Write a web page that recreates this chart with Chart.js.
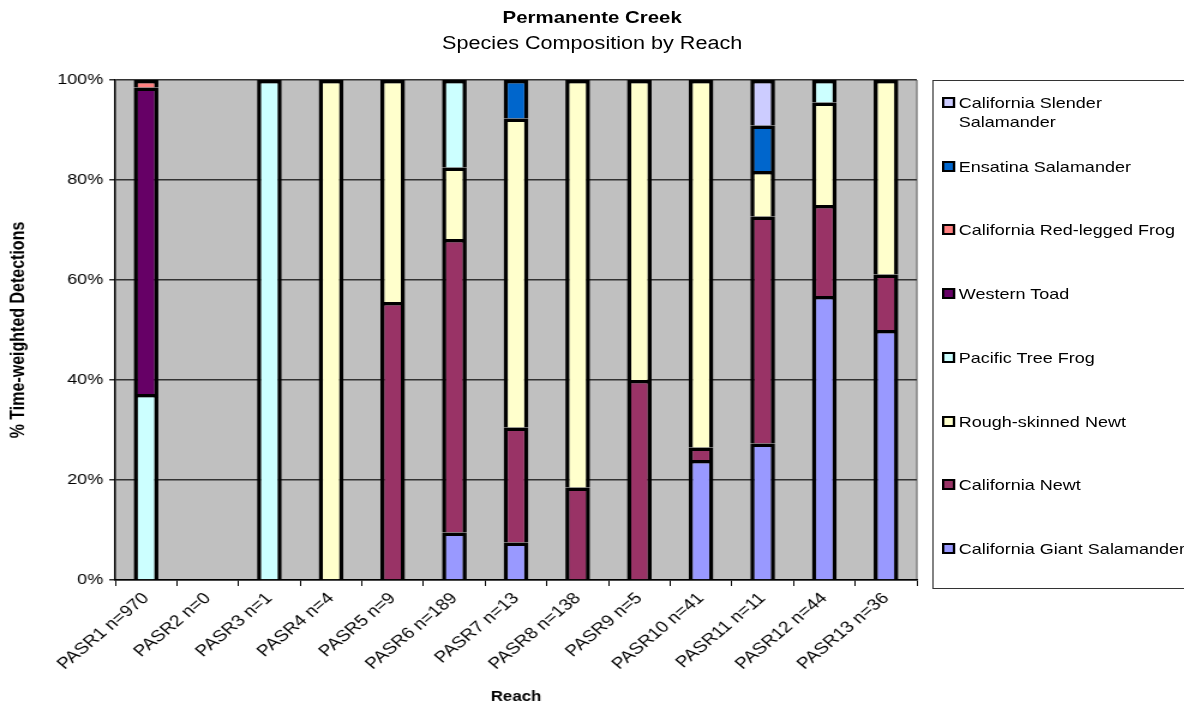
<!DOCTYPE html>
<html lang="en">
<head>
<meta charset="utf-8">
<title>Permanente Creek - Species Composition by Reach</title>
<script src="https://cdn.jsdelivr.net/npm/chart.js"></script>
<style>
  body { margin: 0; background: #fff; overflow: hidden; font-family: "Liberation Sans", Arial, sans-serif; }
  /* the reference is drawn a little wide, so the whole figure is stretched sideways */
  #wrap { position: relative; width: 987px; height: 706px; transform: scaleX(1.2); transform-origin: 0 0; }
  .title { position: absolute; left: 0; width: 987px; text-align: center; color: #000; }
  #legend { position: absolute; left: 777px; top: 80px; width: 240px; height: 507px; border: 1px solid #333; }
  .item { position: absolute; left: 7px; font-size: 15px; line-height: 19px; color: #000; }
  .item .box { position: absolute; left: 0; top: 4px; width: 7px; height: 7px; border: 2px solid #000; }
  .item .txt { position: absolute; left: 14px; top: 0; width: 195px; }
</style>
</head>
<body>
<div id="wrap">
  <div class="title" style="top:8px;font-size:17px;line-height:20px;font-weight:bold">Permanente Creek</div>
  <div class="title" style="top:32px;font-size:18px;line-height:22px">Species Composition by Reach</div>
  <canvas id="myChart"></canvas>
  <div id="legend"></div>
</div>

<script>
// reaches (x axis)
const reaches = ['PASR1 n=970', 'PASR2 n=0', 'PASR3 n=1', 'PASR4 n=4', 'PASR5 n=9', 'PASR6 n=189',
  'PASR7 n=13', 'PASR8 n=138', 'PASR9 n=5', 'PASR10 n=41', 'PASR11 n=11', 'PASR12 n=44', 'PASR13 n=36'];

// % time-weighted detections per species, one value per reach
const giantSalamander   = [0, 0, 0, 0, 0, 9.5, 7.5, 0, 0, 24, 27.3, 56.8, 50];
const californiaNewt    = [0, 0, 0, 0, 55.6, 58.7, 23, 18.5, 40, 2.5, 45.4, 18.2, 11.1];
const roughSkinnedNewt  = [0, 0, 0, 100, 44.4, 14.3, 61.8, 81.5, 60, 73.5, 9.1, 20.5, 38.9];
const pacificTreeFrog   = [37.2, 0, 100, 0, 0, 17.5, 0, 0, 0, 0, 0, 4.5, 0];
const westernToad       = [61.3, 0, 0, 0, 0, 0, 0, 0, 0, 0, 0, 0, 0];
const redLeggedFrog     = [1.5, 0, 0, 0, 0, 0, 0, 0, 0, 0, 0, 0, 0];
const ensatina          = [0, 0, 0, 0, 0, 0, 7.7, 0, 0, 0, 9.1, 0, 0];
const slenderSalamander = [0, 0, 0, 0, 0, 0, 0, 0, 0, 0, 9.1, 0, 0];

const yTicks = [0, 20, 40, 60, 80, 100];

const font = 'Liberation Sans, Arial, sans-serif';

// bottom of the stack first
const datasets = [
  { label: 'California Giant Salamander', data: giantSalamander, backgroundColor: '#9999FF' },
  { label: 'California Newt', data: californiaNewt, backgroundColor: '#993366' },
  { label: 'Rough-skinned Newt', data: roughSkinnedNewt, backgroundColor: '#FFFFCC' },
  { label: 'Pacific Tree Frog', data: pacificTreeFrog, backgroundColor: '#CCFFFF' },
  { label: 'Western Toad', data: westernToad, backgroundColor: '#660066' },
  { label: 'California Red-legged Frog', data: redLeggedFrog, backgroundColor: '#FF8080' },
  { label: 'Ensatina Salamander', data: ensatina, backgroundColor: '#0066CC' },
  { label: 'California Slender Salamander', data: slenderSalamander, backgroundColor: '#CCCCFF' }
].map(d => Object.assign(d, {
  borderColor: '#000',
  borderWidth: 3.5,
  barPercentage: 0.4,
  categoryPercentage: 1,
  inflateAmount: 0
}));

// grey plot background
const plotBg = {
  id: 'plotBg',
  beforeDraw(chart) {
    const { ctx, chartArea: a } = chart;
    ctx.save();
    ctx.fillStyle = '#C0C0C0';
    ctx.fillRect(a.left, a.top, a.right - a.left, a.bottom - a.top);
    ctx.strokeStyle = '#808080';
    ctx.lineWidth = 1.5;
    ctx.beginPath();
    ctx.moveTo(a.right, a.top);
    ctx.lineTo(a.right, a.bottom);
    ctx.stroke();
    ctx.restore();
  }
};

const ctx = document.getElementById('myChart').getContext('2d');
new Chart(ctx, {
  type: 'bar',
  data: { labels: reaches, datasets: datasets },
  options: {
    responsive: true,
    maintainAspectRatio: false,
    animation: false,
    layout: { padding: { top: 80, right: 223, bottom: 0, left: 0 } },
    plugins: {
      legend: { display: false },
      tooltip: { enabled: false }
    },
    scales: {
      x: {
        stacked: true,
        grid: { offset: true, drawOnChartArea: false, drawTicks: true, tickLength: 6, color: '#000', lineWidth: 1 },
        border: { color: '#000', width: 1.5 },
        ticks: { font: { family: font, size: 16 }, color: '#000', minRotation: 45, maxRotation: 45, autoSkip: false, padding: 3 },
        title: { display: true, text: 'Reach', color: '#000', font: { family: font, size: 14, weight: 'bold' }, padding: { top: 0, bottom: 0 } },
        afterFit(scale) { scale.height = 126; }
      },
      y: {
        stacked: true,
        min: 0,
        max: 100,
        afterBuildTicks(scale) { scale.ticks = yTicks.map(v => ({ value: v })); },
        grid: { color: '#333', lineWidth: 1.5, tickLength: 5 },
        border: { color: '#000', width: 1.5 },
        ticks: { font: { family: font, size: 15 }, color: '#000', padding: 5, callback: v => v + '%' },
        title: { display: true, text: '% Time-weighted Detections', color: '#000', font: { family: font, size: 16, weight: 'bold' }, padding: { top: 6, bottom: 0 } },
        afterFit(scale) { scale.width = 96; }
      }
    }
  },
  plugins: [plotBg]
});

// legend, top of the stack first
const legend = document.getElementById('legend');
datasets.slice().reverse().forEach((d, i) => {
  const item = document.createElement('div');
  item.className = 'item';
  item.style.top = (12 + i * 63.7) + 'px';
  item.innerHTML = '<span class="box" style="background:' + d.backgroundColor + '"></span><span class="txt"></span>';
  item.querySelector('.txt').textContent = d.label;
  legend.appendChild(item);
});
</script>
</body>
</html>
